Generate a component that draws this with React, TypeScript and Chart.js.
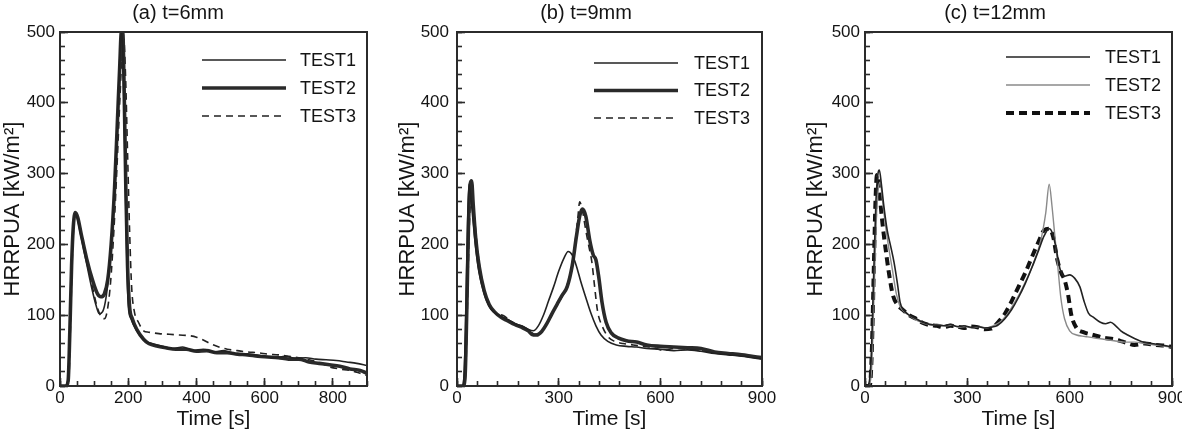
import React, { useEffect, useRef } from 'react';
import { Chart, registerables } from 'chart.js';

Chart.register(...registerables);

const FONT = "'Liberation Sans', Arial, Helvetica, sans-serif";

// ---------- data ----------
const SERIES_LABELS = ['TEST1', 'TEST2', 'TEST3'];
const Y_MAX = 500;
const Y_MAJOR = 100;
const Y_MINOR = 20;
const X_MAX = 900;

type Pt = [number, number];

// (a) t=6mm
const A_TEST1: Pt[] = [[0,0],[15,0],[22,5],[28,60],[33,150],[38,215],[44,243],[50,238],[60,215],[75,180],[90,145],[105,115],[115,102],[125,105],[135,125],[145,170],[155,240],[165,330],[172,420],[178,490],[181,498],[185,460],[190,330],[195,200],[200,115],[208,95],[220,82],[240,68],[255,62],[270,60],[300,56],[330,53],[360,55],[390,50],[420,52],[450,48],[480,50],[510,46],[540,45],[570,44],[600,42],[630,40],[660,42],[690,39],[720,40],[750,38],[780,37],[810,36],[840,34],[870,32],[900,29]];
const A_TEST2: Pt[] = [[0,0],[18,0],[24,8],[29,80],[34,170],[39,225],[45,245],[52,238],[62,215],[78,180],[95,150],[110,130],[120,126],[130,130],[140,150],[150,200],[160,280],[168,370],[175,450],[180,500],[184,500],[188,420],[193,280],[198,170],[204,112],[212,95],[225,80],[245,66],[260,60],[280,57],[310,54],[340,52],[370,52],[400,49],[430,50],[460,47],[490,47],[520,45],[550,44],[580,42],[610,41],[640,40],[670,38],[700,38],[730,34],[760,32],[790,30],[820,28],[850,24],[880,22],[900,18]];
const A_TEST3: Pt[] = [[0,0],[20,0],[26,10],[31,90],[36,180],[41,230],[47,242],[55,232],[65,210],[80,175],[95,140],[110,110],[122,97],[130,95],[138,105],[148,145],[158,220],[168,320],[176,410],[182,470],[187,490],[192,440],[198,330],[204,220],[210,140],[218,105],[230,90],[245,78],[260,76],[290,74],[320,73],[350,72],[380,71],[400,69],[420,65],[440,60],[460,56],[490,52],[520,50],[550,48],[580,47],[610,45],[640,44],[670,42],[700,40],[730,37],[760,33],[790,27],[820,24],[850,22],[880,18],[900,15]];

// (b) t=9mm
const B_TEST1: Pt[] = [[0,0],[15,0],[20,10],[25,80],[30,200],[35,285],[40,270],[47,235],[55,195],[65,160],[80,130],[95,112],[110,104],[130,98],[150,94],[170,88],[190,85],[210,80],[225,78],[240,85],[255,100],[270,120],[285,140],[300,162],[315,180],[328,190],[340,185],[352,170],[365,148],[380,125],[395,103],[410,85],[425,72],[445,63],[470,58],[500,56],[530,55],[560,53],[600,52],[640,50],[680,51],[720,49],[760,46],[800,44],[840,42],[870,40],[900,38]];
const B_TEST2: Pt[] = [[0,0],[18,0],[24,15],[29,110],[34,230],[39,285],[43,290],[48,255],[55,210],[65,170],[80,135],[95,115],[110,105],[130,97],[150,92],[170,87],[190,83],[210,78],[225,72],[235,72],[250,77],[265,88],[280,102],[295,115],[310,128],[325,140],[340,170],[352,210],[362,240],[370,250],[380,240],[392,205],[402,185],[410,178],[418,155],[428,118],[440,90],[455,75],[475,68],[500,64],[530,62],[560,58],[600,56],[640,55],[680,54],[720,53],[760,48],[800,46],[840,44],[870,42],[900,40]];
const B_TEST3: Pt[] = [[0,0],[20,0],[26,20],[31,120],[36,220],[41,268],[46,260],[52,235],[60,195],[70,160],[85,128],[100,112],[115,102],[135,100],[155,93],[175,87],[195,84],[215,78],[230,73],[245,75],[260,84],[275,97],[290,110],[305,122],[320,136],[335,160],[348,200],[357,240],[362,260],[370,248],[380,220],[390,195],[398,175],[405,145],[415,105],[428,85],[445,70],[465,63],[490,60],[520,58],[550,56],[580,54],[610,50],[640,53],[680,52],[720,50],[760,47],[800,45],[840,43],[870,41],[900,39]];

// (c) t=12mm
const C_TEST1: Pt[] = [[0,0],[10,2],[18,40],[25,150],[32,260],[38,300],[42,305],[48,285],[55,255],[65,220],[75,198],[85,175],[95,145],[103,118],[112,108],[130,100],[150,95],[170,90],[190,87],[210,86],[230,85],[250,87],[270,84],[290,85],[310,83],[330,84],[350,82],[370,83],[390,86],[410,95],[430,108],[450,125],[470,145],[490,168],[510,193],[525,212],[540,222],[550,215],[560,195],[572,165],[585,155],[600,157],[615,152],[630,140],[642,120],[655,103],[670,97],[690,90],[705,88],[720,90],[735,85],[750,78],[770,72],[790,67],[810,63],[840,60],[870,58],[900,55]];
const C_TEST2: Pt[] = [[0,0],[12,0],[20,30],[27,140],[34,245],[40,282],[45,288],[50,268],[58,235],[68,200],[80,165],[92,130],[103,112],[115,105],[135,98],[155,92],[175,88],[195,86],[215,87],[235,85],[255,86],[275,83],[295,84],[315,82],[335,84],[355,82],[375,85],[395,90],[415,100],[435,115],[455,132],[475,152],[495,175],[515,205],[530,245],[540,285],[548,255],[556,215],[565,170],[574,125],[585,95],[600,78],[620,72],[645,70],[670,68],[700,66],[730,64],[760,62],[790,62],[820,60],[850,58],[880,56],[900,55]];
const C_TEST3: Pt[] = [[0,0],[14,0],[20,50],[26,170],[31,265],[35,298],[40,290],[46,255],[53,222],[60,195],[70,160],[82,128],[95,115],[110,108],[130,100],[150,95],[170,89],[190,86],[210,85],[230,83],[250,85],[270,84],[290,82],[310,84],[330,83],[350,80],[370,81],[390,90],[410,102],[430,120],[450,140],[470,160],[490,183],[510,205],[525,220],[540,222],[552,210],[563,180],[575,160],[585,150],[595,130],[605,100],[620,82],[640,76],[670,72],[700,68],[730,66],[760,62],[790,58],[820,60],[850,58],[880,57],[900,55]];

// ---------- styles / layout ----------
type LineStyle = { width: number; color: string; dash: number[] };
const THIN: LineStyle = { width: 1.6, color: '#222', dash: [] };
const THICK: LineStyle = { width: 3.6, color: '#2a2a2a', dash: [] };
const DASH: LineStyle = { width: 1.6, color: '#222', dash: [7, 5] };
const GRAY: LineStyle = { width: 1.4, color: '#8a8a8a', dash: [] };
const THICK_DASH: LineStyle = { width: 4, color: '#111', dash: [8, 5] };

type PanelCfg = {
  title: string; titleX: number;
  series: Pt[][]; styles: LineStyle[];
  xMajor: number; xMinor: number;
  left: number; right: number;
  yTitlePad: number; yTickPad: number;
  legend: { x1: number; x2: number; tx: number; y0: number; dy: number };
};

const PANELS: PanelCfg[] = [
  { title: '(a) t=6mm', titleX: 178, series: [A_TEST1, A_TEST2, A_TEST3], styles: [THIN, THICK, DASH],
    xMajor: 200, xMinor: 50, left: 60, right: 367, yTitlePad: 0, yTickPad: 5,
    legend: { x1: 202, x2: 286, tx: 300, y0: 60, dy: 28 } },
  { title: '(b) t=9mm', titleX: 192, series: [B_TEST1, B_TEST2, B_TEST3], styles: [THIN, THICK, DASH],
    xMajor: 300, xMinor: 60, left: 63, right: 368, yTitlePad: 1, yTickPad: 8,
    legend: { x1: 200, x2: 284, tx: 300, y0: 63, dy: 27.5 } },
  { title: '(c) t=12mm', titleX: 207, series: [C_TEST1, C_TEST2, C_TEST3], styles: [THIN, GRAY, THICK_DASH],
    xMajor: 300, xMinor: 60, left: 77, right: 384, yTitlePad: 15, yTickPad: 5,
    legend: { x1: 218, x2: 302, tx: 317, y0: 57, dy: 28 } },
];

const W = 394;
const H = 432;
const PLOT_TOP = 32;
const PLOT_BOTTOM = 386;
const AXIS_COLOR = '#2b2b2b';
const TEXT_COLOR = '#141414';
const MAJOR_LEN = 8;
const MINOR_LEN = 5;

// ---------- plugins ----------
const framePlugin = {
  id: 'frameBox',
  afterDraw(chart: any) {
    const { ctx, chartArea: a } = chart;
    ctx.save();
    ctx.setLineDash([]);
    ctx.strokeStyle = AXIS_COLOR;
    ctx.lineWidth = 2;
    ctx.strokeRect(a.left, a.top, a.right - a.left, a.bottom - a.top);
    ctx.restore();
  },
};

const legendPlugin = {
  id: 'insetLegend',
  afterDraw(chart: any, _args: any, opts: any) {
    const ctx = chart.ctx;
    chart.data.datasets.forEach((ds: any, i: number) => {
      const y = opts.y0 + i * opts.dy;
      ctx.save();
      ctx.strokeStyle = ds.borderColor;
      ctx.lineWidth = ds.borderWidth;
      ctx.setLineDash(ds.borderDash || []);
      ctx.beginPath();
      ctx.moveTo(opts.x1, y);
      ctx.lineTo(opts.x2, y);
      ctx.stroke();
      ctx.setLineDash([]);
      ctx.fillStyle = TEXT_COLOR;
      ctx.font = `18px ${FONT}`;
      ctx.textBaseline = 'middle';
      ctx.textAlign = 'left';
      ctx.fillText(ds.label, opts.tx, y + 1);
      ctx.restore();
    });
  },
};

const titlePlugin = {
  id: 'panelTitle',
  afterDraw(chart: any, _args: any, opts: any) {
    const ctx = chart.ctx;
    ctx.save();
    ctx.fillStyle = TEXT_COLOR;
    ctx.font = `20px ${FONT}`;
    ctx.textAlign = 'center';
    ctx.textBaseline = 'middle';
    ctx.fillText(opts.text, opts.x, 13);
    ctx.restore();
  },
};

function tickGrid(len: number) {
  return {
    display: true,
    drawOnChartArea: false,
    drawTicks: true,
    tickLength: -len,
    tickWidth: 1.6,
    tickColor: AXIS_COLOR,
  };
}

function fixWidth(w: number) {
  return (s: any) => {
    s.width = w;
    s.paddingTop = 0;
    s.paddingBottom = 0;
    s.paddingLeft = 0;
    s.paddingRight = 0;
  };
}

function fixHeight(h: number) {
  return (s: any) => {
    s.height = h;
    s.paddingTop = 0;
    s.paddingBottom = 0;
    s.paddingLeft = 0;
    s.paddingRight = 0;
  };
}

function Panel({ cfg, offset }: { cfg: PanelCfg; offset: number }) {
  const ref = useRef<HTMLCanvasElement | null>(null);
  useEffect(() => {
    if (!ref.current) return;
    const chart = new Chart(ref.current, {
      type: 'line',
      data: {
        datasets: cfg.series.map((s, i) => ({
          label: SERIES_LABELS[i],
          data: s.map(([x, y]) => ({ x, y })),
          xAxisID: 'x',
          yAxisID: 'y',
          borderColor: cfg.styles[i].color,
          borderWidth: cfg.styles[i].width,
          borderDash: cfg.styles[i].dash,
          pointRadius: 0,
          fill: false,
          tension: 0.25,
          cubicInterpolationMode: 'monotone' as const,
        })),
      },
      options: {
        responsive: false,
        animation: false,
        devicePixelRatio: 1,
        layout: { padding: { left: 0, right: W - cfg.right, top: PLOT_TOP, bottom: 0 }, autoPadding: false },
        plugins: {
          legend: { display: false },
          tooltip: { enabled: false },
          title: { display: false },
          insetLegend: cfg.legend,
          panelTitle: { text: cfg.title, x: cfg.titleX },
        } as any,
        scales: {
          x: {
            type: 'linear',
            axis: 'x',
            position: 'bottom',
            weight: 1,
            min: 0,
            max: X_MAX,
            afterFit: fixHeight(H - PLOT_BOTTOM),
            grid: tickGrid(MAJOR_LEN),
            border: { display: false },
            ticks: {
              stepSize: cfg.xMajor,
              includeBounds: false,
              autoSkip: false,
              maxRotation: 0,
              padding: 2 + MAJOR_LEN,
              color: TEXT_COLOR,
              font: { family: FONT, size: 17 },
            },
            title: {
              display: true,
              text: 'Time [s]',
              color: TEXT_COLOR,
              font: { family: FONT, size: 21 },
              padding: 0,
            },
          },
          xMinor: {
            type: 'linear',
            axis: 'x',
            position: 'bottom',
            weight: 0,
            min: 0,
            max: X_MAX,
            afterFit: fixHeight(0),
            grid: tickGrid(MINOR_LEN),
            border: { display: false },
            ticks: { display: false, stepSize: cfg.xMinor, autoSkip: false },
          },
          y: {
            type: 'linear',
            axis: 'y',
            position: 'left',
            weight: 1,
            min: 0,
            max: Y_MAX,
            afterFit: fixWidth(cfg.left),
            grid: tickGrid(MAJOR_LEN),
            border: { display: false },
            ticks: {
              stepSize: Y_MAJOR,
              autoSkip: false,
              padding: cfg.yTickPad + MAJOR_LEN,
              color: TEXT_COLOR,
              font: { family: FONT, size: 17 },
            },
            title: {
              display: true,
              text: 'HRRPUA [kW/m²]',
              color: TEXT_COLOR,
              font: { family: FONT, size: 22 },
              padding: { top: cfg.yTitlePad, bottom: 0 },
            },
          },
          yMinor: {
            type: 'linear',
            axis: 'y',
            position: 'left',
            weight: 0,
            min: 0,
            max: Y_MAX,
            afterFit: fixWidth(0),
            grid: tickGrid(MINOR_LEN),
            border: { display: false },
            ticks: { display: false, stepSize: Y_MINOR, autoSkip: false },
          },
        } as any,
      },
      plugins: [framePlugin, legendPlugin, titlePlugin],
    });
    return () => chart.destroy();
  }, [cfg]);
  return (
    <div style={{ position: 'absolute', left: offset, top: 0, width: W, height: H }}>
      <canvas ref={ref} width={W} height={H} style={{ display: 'block' }} />
    </div>
  );
}

export default function App() {
  return (
    <div style={{ position: 'fixed', left: 0, top: 0, width: 3 * W, height: H, background: '#fff', overflow: 'hidden' }}>
      {PANELS.map((p, i) => (
        <Panel key={i} cfg={p} offset={i * W} />
      ))}
    </div>
  );
}
